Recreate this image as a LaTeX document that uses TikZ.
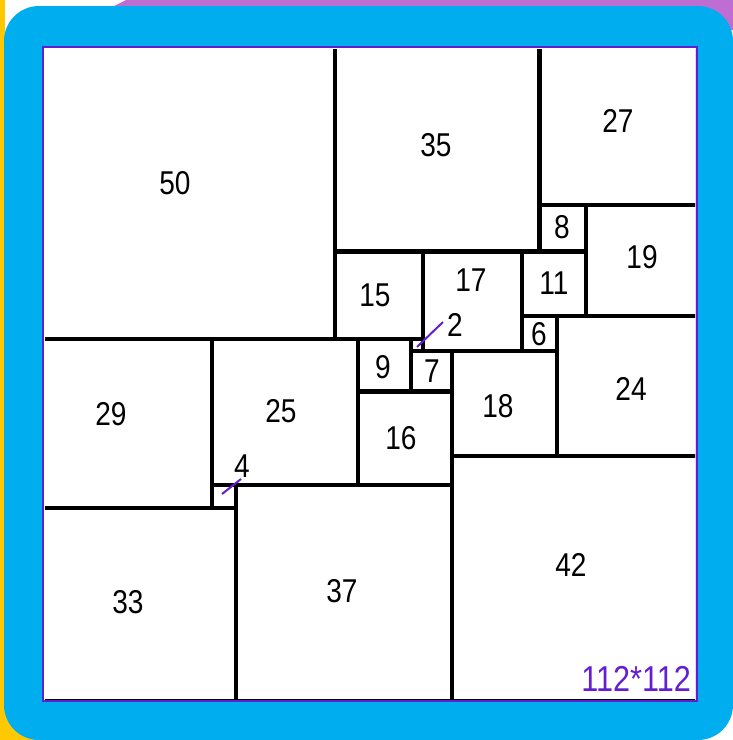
\documentclass[tikz,border=0pt]{standalone}
\usepackage{fontspec}
\setmainfont{Liberation Sans}[FakeStretch=0.85]
\definecolor{frameblue}{RGB}{0,174,239}
\definecolor{toppurple}{RGB}{190,110,210}
\definecolor{sideyellow}{RGB}{255,200,0}
\definecolor{borderpurple}{RGB}{100,30,210}
\begin{document}
\begin{tikzpicture}[x=1pt,y=-1pt,
  lab/.style={font=\fontsize{33}{33}\selectfont, inner sep=0pt},
  sq/.style={draw=black, line width=4.2pt},
  pointer/.style={draw=borderpurple, line width=2pt}]
\useasboundingbox (0,0) rectangle (733,740);
\fill[white] (0,0) rectangle (733,740);
\fill[sideyellow] (0,0) rectangle (5,740);
\fill[sideyellow] (0,690) rectangle (50,740);
\fill[toppurple] (108,9) -- (126,0) -- (733,0) -- (733,30) -- (108,30) -- cycle;
\fill[frameblue, rounded corners=35pt] (4,6) rectangle (733,740);
\fill[white] (43,47) rectangle (697,701);
\begin{scope}
\clip (45,49) rectangle (695,699);
\begin{scope}[shift={(43,47)}, x=5.84pt, y=-5.84pt]
\foreach \x/\y/\s in {0/0/50, 50/0/35, 85/0/27, 85/27/8, 93/27/19, 50/35/15, 65/35/17, 82/35/11, 82/46/6, 88/46/24, 0/50/29, 29/50/25, 54/50/9, 63/50/2, 63/52/7, 70/52/18, 54/59/16, 29/75/4, 0/79/33, 33/75/37, 70/70/42}
  \draw[sq] (\x,\y) rectangle ++(\s,\s);
\end{scope}
\end{scope}
\draw[borderpurple, line width=2.5pt] (43,47) rectangle (697,701);
% labels
\node[lab] (l50) at (175,183) {50};
\node[lab] (l35) at (436,145) {35};
\node[lab] (l27) at (618,121) {27};
\node[lab] (l8) at (562,227) {8};
\node[lab] (l19) at (642,257) {19};
\node[lab] (l15) at (375,295) {15};
\node[lab] (l17) at (471,280) {17};
\node[lab] (l11) at (554,283) {11};
\node[lab] (l6) at (539,334) {6};
\node[lab] (l2) at (455,325) {2};
\node[lab] (l9) at (383,367) {9};
\node[lab] (l7) at (432,371) {7};
\node[lab] (l18) at (498,406) {18};
\node[lab] (l24) at (631,389) {24};
\node[lab] (l29) at (111,414) {29};
\node[lab] (l25) at (281,411) {25};
\node[lab] (l16) at (401,438) {16};
\node[lab] (l4) at (242,466) {4};
\node[lab] (l33) at (128,602) {33};
\node[lab] (l37) at (342,591) {37};
\node[lab] (l42) at (571,565) {42};
\node[lab, font=\fontsize{36}{36}\selectfont, text=borderpurple, anchor=east] (size) at (691,679) {112*112};
% pointers to tiny squares
\coordinate (p2a) at (417,347);
\coordinate (p2b) at (443,322);
\coordinate (p4a) at (222,494);
\coordinate (p4b) at (241,479);
\draw[pointer] (p2a) -- (p2b);
\draw[pointer] (p4a) -- (p4b);
\end{tikzpicture}
\end{document}
